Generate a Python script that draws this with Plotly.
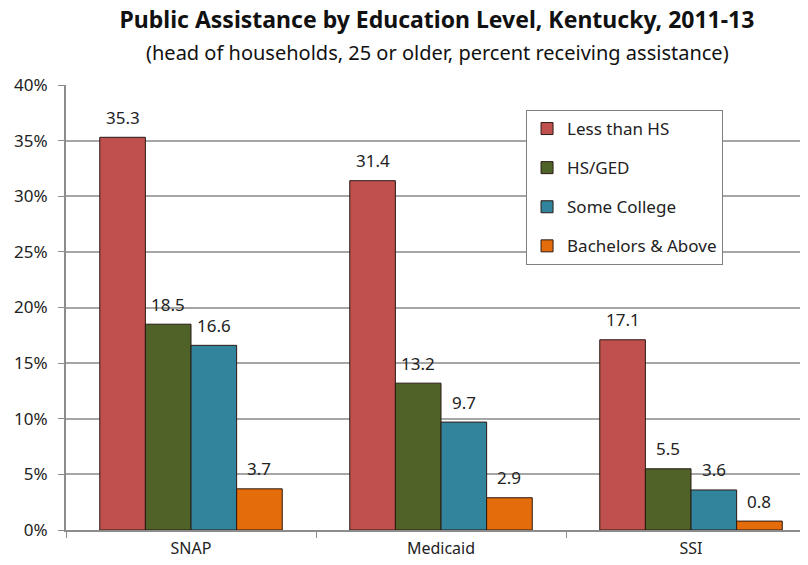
import plotly.graph_objects as go

programs = ["SNAP", "Medicaid", "SSI"]
less_than_hs = [35.3, 31.4, 17.1]
hs_ged = [18.5, 13.2, 5.5]
some_college = [16.6, 9.7, 3.6]
bachelors = [3.7, 2.9, 0.8]

series = [
    ("Less than HS", less_than_hs, "#C0504D"),
    ("HS/GED", hs_ged, "#4F6228"),
    ("Some College", some_college, "#31849B"),
    ("Bachelors & Above", bachelors, "#E46C0A"),
]

FONT = "Noto Sans"
# page has an 8px body margin, so the figure is a bit smaller than the window
W, H = 800, 557
L, R, T, B = 58, 0, 77, 35
XRANGE = [-0.5, 2.468]
BARGAP = 0.27
PLOT_H = H - T - B


def paper_y(page_px):
    # page pixel (from top of window) -> paper y
    return (H + 8 - B - page_px) / PLOT_H


fig = go.Figure()
for i, (name, vals, col) in enumerate(series):
    fig.add_trace(go.Bar(
        x=programs, y=vals, name=name,
        marker=dict(color=col, line=dict(color="#2b1a14", width=1)),
        legendgroup=str(i),
    ))

# value labels above each bar
cat_px = (W - L - R) / (XRANGE[1] - XRANGE[0])
bar_px = cat_px * (1 - BARGAP) / len(series)
for i, (name, vals, col) in enumerate(series):
    for p, v in zip(programs, vals):
        fig.add_annotation(
            x=p, y=v, text=f"{v:.1f}", showarrow=False,
            xshift=(i - (len(series) - 1) / 2) * bar_px,
            yanchor="middle", yshift=20,
            font=dict(family=FONT, size=17, color="#222"),
        )

fig.add_annotation(
    text="(head of households, 25 or older, percent receiving assistance)",
    xref="paper", yref="paper", x=0.5, y=paper_y(52),
    showarrow=False, yanchor="middle",
    font=dict(family=FONT, size=20, color="#111"),
)

fig.update_layout(
    width=W, height=H,
    margin=dict(l=L, r=R, t=T, b=B),
    paper_bgcolor="white", plot_bgcolor="white",
    barmode="group", bargap=BARGAP, bargroupgap=0,
    font=dict(family=FONT, size=16, color="#222"),
    title=dict(
        text="<b>Public Assistance by Education Level, Kentucky, 2011-13</b>",
        xref="paper", x=0.5, xanchor="center",
        y=1 - 12 / H, yanchor="middle",
        font=dict(family=FONT, size=23, color="#111"),
    ),
    legend=dict(
        x=0.62, y=paper_y(110), xanchor="left", yanchor="top",
        bordercolor="#808080", borderwidth=1, bgcolor="white",
        font=dict(family=FONT, size=17, color="#222"),
        tracegroupgap=14, traceorder="grouped", itemwidth=30,
    ),
    showlegend=True,
)
fig.update_xaxes(
    range=XRANGE, showline=True, linecolor="#8c8c8c", linewidth=2,
    ticks="outside", tickson="boundaries", ticklen=6, tickcolor="#8c8c8c",
    showgrid=False, tickfont=dict(size=16, color="#222"), automargin=False,
    ticklabelstandoff=3,
)
fig.update_yaxes(
    range=[0, 40], dtick=5, ticksuffix="%", showline=True, linecolor="#8c8c8c",
    linewidth=2, ticks="outside", ticklen=6, tickcolor="#8c8c8c",
    gridcolor="#a6a6a6", gridwidth=1.5, zeroline=False,
    tickfont=dict(size=17, color="#222"), automargin=False,
    ticklabelstandoff=7,
)

fig.write_html("out.html")
